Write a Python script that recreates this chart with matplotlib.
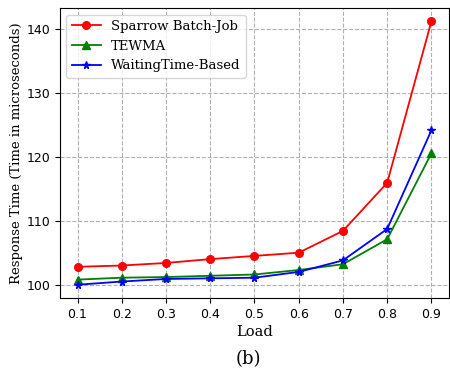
import matplotlib
matplotlib.use("Agg")
import matplotlib.pyplot as plt

load = [0.1, 0.2, 0.3, 0.4, 0.5, 0.6, 0.7, 0.8, 0.9]
sparrow = [102.9, 103.1, 103.5, 104.1, 104.6, 105.1, 108.5, 116.0, 141.2]
tewma = [100.9, 101.2, 101.3, 101.5, 101.7, 102.4, 103.3, 107.2, 120.6]
waiting = [100.1, 100.6, 101.0, 101.1, 101.2, 102.1, 103.9, 108.8, 124.2]
xticks = [0.1, 0.2, 0.3, 0.4, 0.5, 0.6, 0.7, 0.8, 0.9]
yticks = [100, 110, 120, 130, 140]

fig = plt.figure(figsize=(4.5, 3.71), dpi=100)
ax = fig.add_axes([0.133, 0.197, 0.865, 0.781])
ax.plot(load, sparrow, color="red", marker="o", markersize=5.5, lw=1.3, label="Sparrow Batch-Job")
ax.plot(load, tewma, color="green", marker="^", markersize=5.5, lw=1.3, label="TEWMA")
ax.plot(load, waiting, color="blue", marker="*", markersize=5.5, lw=1.3, label="WaitingTime-Based")
ax.set_xticks(xticks)
ax.set_yticks(yticks)
ax.tick_params(labelsize=9)
ax.grid(True, linestyle="--", color="#b0b0b0", lw=0.8)
serif = ["DejaVu Serif"]
ax.set_xlabel("Load", family=serif, fontsize=10.5, labelpad=3)
ax.set_ylabel("Response Time (Time in microseconds)", family=serif, fontsize=9.5, labelpad=2)
ax.legend(loc="upper left", prop={"family": serif, "size": 9.5}, handlelength=2.2)
fig.text(0.552, 0.018, "(b)", family=serif, fontsize=13, ha="center")
fig.savefig("out.png", dpi=100)
